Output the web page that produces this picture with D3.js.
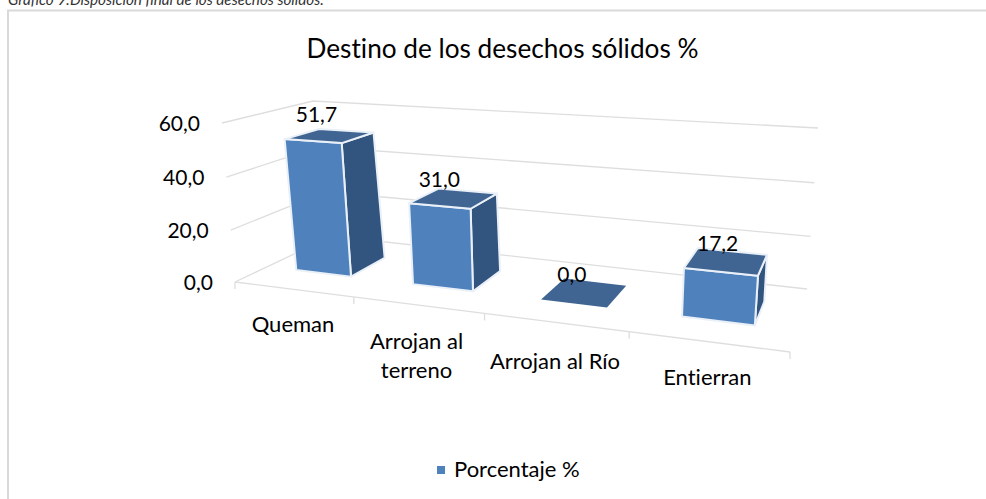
<!DOCTYPE html>
<html>
<head>
<meta charset="utf-8">
<script src="https://d3js.org/d3.v7.min.js"></script>
<style>
  body { margin: 0; background: #fff; overflow: hidden; }
  text { font-family: Lato, "Noto Sans", sans-serif; fill: #000; font-variant-ligatures: none; }
</style>
</head>
<body>
<div id="chart"></div>
<script>
// chart values
var categories = ["Queman", "Arrojan al terreno", "Arrojan al Río", "Entierran"];
var values = [51.7, 31.0, 0.0, 17.2];
var valueLabels = ["51,7", "31,0", "0,0", "17,2"];
var yTicks = [0, 20, 40, 60];
var yTickLabels = ["0,0", "20,0", "40,0", "60,0"];
var seriesName = "Porcentaje %";

var svgWidth = 986;
var svgHeight = 499;

var svg = d3.select("#chart")
  .append("svg")
  .attr("width", svgWidth)
  .attr("height", svgHeight);

// soft edge, the bars in the original are a bit blurry
svg.append("defs").append("filter")
  .attr("id", "soft")
  .append("feGaussianBlur")
  .attr("stdDeviation", 0.4);

// scales: category axis, depth and value all run 0..1 inside the 3D box
var xScale = d3.scaleLinear().domain([0, categories.length]).range([0, 1]);
var depthScale = d3.scaleLinear().domain([0, 1]).range([0, 1]);
var yScale = d3.scaleLinear().domain([0, 60]).range([0, 1]);

// screen position of the 8 box corners, [u][d][v]
var corners = {
  "000": [235, 282], "001": [222, 123],
  "010": [332, 236], "011": [313, 101],
  "100": [790, 352], "101": [805, 162],
  "110": [807, 289], "111": [818, 128]
};
var persp = { u: -0.183, d: 0.18, v: -0.03 };

// homogeneous trilinear interpolation, gives straight edges with perspective
function project(cat, depth, val) {
  var u = xScale(cat), d = depthScale(depth), v = yScale(val);
  var sx = 0, sy = 0, sw = 0;
  [0, 1].forEach(function(i) {
    [0, 1].forEach(function(j) {
      [0, 1].forEach(function(k) {
        var n = (i ? u : 1 - u) * (j ? d : 1 - d) * (k ? v : 1 - v);
        var w = 1 + persp.u * i + persp.d * j + persp.v * k;
        var c = corners["" + i + j + k];
        sx += n * w * c[0];
        sy += n * w * c[1];
        sw += n * w;
      });
    });
  });
  return [sx / sw, sy / sw];
}

var line = d3.line();

// caption and frame (frame runs off the right and bottom of the picture)
svg.append("text")
  .attr("x", 8).attr("y", 5)
  .style("font-size", "15.2px")
  .style("font-style", "italic")
  .style("fill", "#333")
  .text("Gráfico 9:Disposición final de los desechos sólidos.");

svg.append("rect")
  .attr("x", 8).attr("y", 10.5)
  .attr("width", 990).attr("height", 510)
  .attr("fill", "#fff")
  .attr("stroke", "#d9d9d9")
  .attr("stroke-width", 2);

svg.append("text")
  .attr("x", 502.5).attr("y", 58)
  .attr("text-anchor", "middle")
  .style("font-size", "26.2px")
  .text("Destino de los desechos sólidos %");

// grid lines: left wall + back wall
var gridGroup = svg.append("g")
  .attr("fill", "none")
  .attr("stroke", "#dedede")
  .attr("stroke-width", 1.3);

yTicks.forEach(function(t, i) {
  gridGroup.append("path")
    .attr("d", line([project(0, 0, t), project(0, 1, t), project(categories.length, 1, t)]));
  svg.append("text")
    .attr("x", project(0, 0, t)[0] - 22)
    .attr("y", project(0, 0, t)[1] + 8)
    .attr("text-anchor", "end")
    .style("font-size", "21px")
    .text(yTickLabels[i]);
});

// floor front edge with ticks
gridGroup.append("path")
  .attr("d", line([project(0, 0, 0), project(categories.length, 0, 0)]));
d3.range(categories.length + 1).forEach(function(i) {
  var p = project(i, 0, 0);
  gridGroup.append("path").attr("d", line([p, [p[0], p[1] + 7]]));
});

// bars, drawn as 3 visible faces
var barInset = 0.26;
var depthNear = 0.3;
var depthFar = 0.69;
var edgeColor = "#eaf0f7";

var barGroups = svg.selectAll(".bar")
  .data(values)
  .enter()
  .append("g")
  .attr("class", "bar")
  .attr("filter", "url(#soft)")
  .attr("stroke", edgeColor)
  .attr("stroke-width", 2)
  .attr("stroke-linejoin", "round");

barGroups.each(function(val, i) {
  var g = d3.select(this);
  var x0 = i + barInset, x1 = i + 1 - barInset;
  var d0 = depthNear, d1 = depthFar;

  if (val > 0) {
    g.append("path")
      .attr("fill", "#315480")
      .attr("d", line([project(x1, d0, 0), project(x1, d1, 0), project(x1, d1, val), project(x1, d0, val)]) + "Z");
    g.append("path")
      .attr("fill", "#4f81bd")
      .attr("d", line([project(x0, d0, 0), project(x1, d0, 0), project(x1, d0, val), project(x0, d0, val)]) + "Z");
  }
  g.append("path")
    .attr("fill", "#3f6592")
    .attr("stroke", val > 0 ? edgeColor : "none")
    .attr("d", line([project(x0, d0, val), project(x1, d0, val), project(x1, d1, val), project(x0, d1, val)]) + "Z");
});

// value labels sit up and to the left of the bar top
var labelShift = [[-14, -14], [-15, -11], [-13, -10], [-9, -10]];
values.forEach(function(val, i) {
  var p = project(i + 0.5, 0.5, val);
  svg.append("text")
    .attr("x", p[0] + labelShift[i][0])
    .attr("y", p[1] + labelShift[i][1])
    .attr("text-anchor", "middle")
    .style("font-size", "21px")
    .text(valueLabels[i]);
});

// category labels
var catLines = [["Queman"], ["Arrojan al", "terreno"], ["Arrojan al Río"], ["Entierran"]];
var catShift = [[0, 43], [-1, 44], [0, 47], [0, 43]];
catLines.forEach(function(lines, i) {
  var p = project(i + 0.5, 0, 0);
  lines.forEach(function(txt, j) {
    svg.append("text")
      .attr("x", p[0] + catShift[i][0])
      .attr("y", p[1] + catShift[i][1] + j * 29)
      .attr("text-anchor", "middle")
      .style("font-size", "22px")
      .text(txt);
  });
});

// legend
svg.append("rect")
  .attr("x", 437).attr("y", 466)
  .attr("width", 8).attr("height", 8)
  .attr("fill", "#4f81bd");
svg.append("text")
  .attr("x", 454).attr("y", 477)
  .style("font-size", "22px")
  .text(seriesName);
</script>
</body>
</html>
